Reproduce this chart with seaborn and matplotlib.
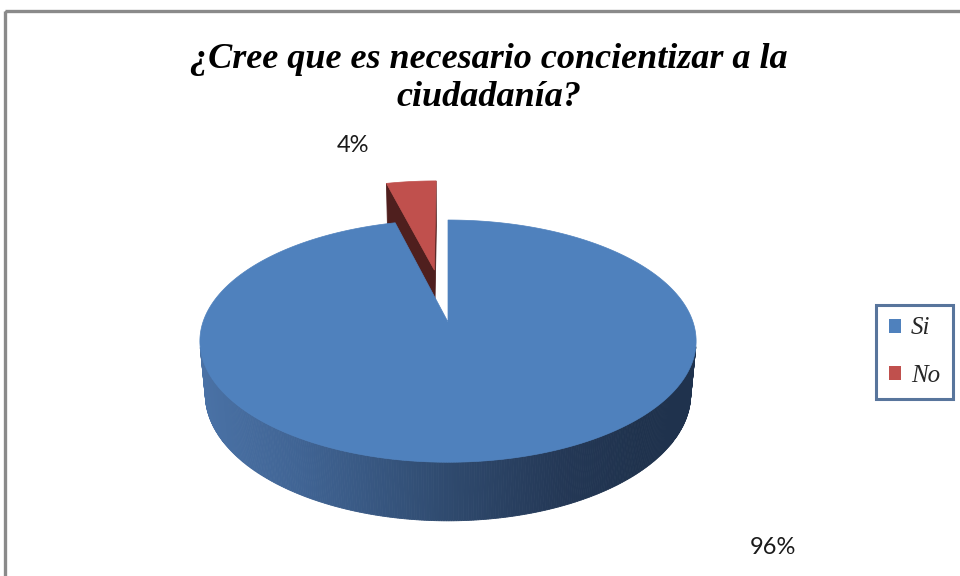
import numpy as np
import matplotlib
matplotlib.use("Agg")
import matplotlib.pyplot as plt
from matplotlib.patches import Polygon, Rectangle, Patch
import seaborn as sns

# ---- data ----
categories = ["Si", "No"]
percentages = [96, 4]
explode = [0.0, 0.476]
title_text = "¿Cree que es necesario concientizar a la\nciudadanía?"

sns.set_theme(style="white")
plt.rcParams["font.family"] = ["Lato", "DejaVu Sans"]

top_colors = sns.color_palette(["#4F81BD", "#C0504D"])
cut_colors = ["#2E4A6E", "#4F1F1E"]

# ---- 3D pie geometry (pixel space) ----
CX, CY, SCALE = 448.0, 322.0, 245.0
ELEV = np.arcsin(0.482)
DIST = 5.55
THICK = 0.25
CE, SE = np.cos(ELEV), np.sin(ELEV)
CAM = np.array([0.0, -DIST * CE, DIST * SE])


def project(X, Y, Z):
    X, Y, Z = (np.asarray(a, dtype=float) for a in (X, Y, Z))
    v = Y * SE + Z * CE
    w = DIST + Y * CE - Z * SE
    k = SCALE * DIST / w
    return CX + X * k, CY - v * k


def side_color(xpix):
    stops_x = np.array([200, 300, 448, 560, 640, 700])
    stops_c = np.array([[74, 114, 166], [64, 100, 148], [47, 74, 110],
                        [36, 56, 86], [31, 50, 77], [31, 50, 77]]) / 255.0
    return [np.interp(xpix, stops_x, stops_c[:, i]) for i in range(3)]


fig = plt.figure(figsize=(9.6, 5.76), dpi=100)
ax = fig.add_axes([0, 0, 1, 1])
ax.set_xlim(0, 960)
ax.set_ylim(576, 0)
ax.axis("off")

# chart frame
ax.add_patch(Rectangle((5, 11), 1200, 1200, fill=False, edgecolor="#8A8A8A",
                       lw=2.4, zorder=0))

# slice angles, clockwise from 12 o'clock
fr = np.array(percentages, dtype=float) / sum(percentages)
bounds = np.concatenate([[0.0], np.cumsum(fr)]) * 2 * np.pi
slices = []
for i, name in enumerate(categories):
    t0, t1 = bounds[i], bounds[i + 1]
    tm = 0.5 * (t0 + t1)
    ox, oy = explode[i] * np.sin(tm), explode[i] * np.cos(tm)
    slices.append(dict(i=i, t0=t0, t1=t1, ox=ox, oy=oy, depth=oy + 0.5 * np.cos(tm)))

# paint far slices first
for s in sorted(slices, key=lambda d: -d["depth"]):
    i, t0, t1, ox, oy = s["i"], s["t0"], s["t1"], s["ox"], s["oy"]
    z = 200
    # radial cut faces
    for tb, sign in ((t0, -1), (t1, 1)):
        if t1 - t0 > 2 * np.pi - 1e-9:
            break
        n = np.array([sign * np.cos(tb), -sign * np.sin(tb), 0.0])
        p = np.array([ox + 0.5 * np.sin(tb), oy + 0.5 * np.cos(tb), -THICK / 2])
        if n @ (CAM - p) > 0:
            X = [ox, ox + np.sin(tb), ox + np.sin(tb), ox]
            Y = [oy, oy + np.cos(tb), oy + np.cos(tb), oy]
            Z = [0, 0, -THICK, -THICK]
            px, py = project(X, Y, Z)
            ax.add_patch(Polygon(np.c_[px, py], closed=True, facecolor=cut_colors[i],
                                 edgecolor=cut_colors[i], lw=0.6, zorder=z))
    # outer curved side
    th = np.linspace(t0, t1, max(4, int((t1 - t0) / (2 * np.pi) * 720)))
    for a, b in zip(th[:-1], th[1:]):
        m = 0.5 * (a + b)
        n = np.array([np.sin(m), np.cos(m), 0.0])
        p = np.array([ox + np.sin(m), oy + np.cos(m), -THICK / 2])
        if n @ (CAM - p) <= 0:
            continue
        X = [ox + np.sin(a), ox + np.sin(b), ox + np.sin(b), ox + np.sin(a)]
        Y = [oy + np.cos(a), oy + np.cos(b), oy + np.cos(b), oy + np.cos(a)]
        Z = [0, 0, -THICK, -THICK]
        px, py = project(X, Y, Z)
        if i == 0:
            col = side_color(px.mean())
        else:
            col = cut_colors[i]
        ax.add_patch(Polygon(np.c_[px, py], closed=True, facecolor=col,
                             edgecolor=col, lw=0.6, zorder=z + 1))
    # top face
    th = np.linspace(t0, t1, 400)
    X = np.concatenate([[ox], ox + np.sin(th)])
    Y = np.concatenate([[oy], oy + np.cos(th)])
    px, py = project(X, Y, np.zeros_like(X))
    ax.add_patch(Polygon(np.c_[px, py], closed=True, facecolor=top_colors[i],
                         edgecolor=top_colors[i], lw=0.5, zorder=z + 2))

# percentage labels
label_pos = [(773, 548), (353, 146)]
for (lx, ly), p in zip(label_pos, percentages):
    ax.text(lx, ly, f"{p}%", ha="center", va="center", fontsize=17,
            color="#1a1a1a", zorder=300)

# title
ax.text(489, 78, title_text, ha="center", va="center", fontsize=26,
        family=["Liberation Serif", "DejaVu Serif"], style="italic",
        weight="bold", linespacing=1.2, color="black", zorder=300)

# legend
handles = [Patch(facecolor=top_colors[k], edgecolor="none") for k in range(len(categories))]
leg = fig.legend(handles, categories, loc="upper left",
                 bbox_to_anchor=(876 / 960, 1 - 305 / 576),
                 prop=dict(family=["Liberation Serif", "DejaVu Serif"], style="italic", size=18),
                 frameon=True, fancybox=False, handlelength=0.5, handleheight=0.5,
                 handletextpad=0.4, labelspacing=1.0, borderpad=0.5, borderaxespad=0)
leg.get_frame().set_edgecolor("#2E5283")
leg.get_frame().set_linewidth(2.2)

fig.savefig("out.png", dpi=100, facecolor="white")
